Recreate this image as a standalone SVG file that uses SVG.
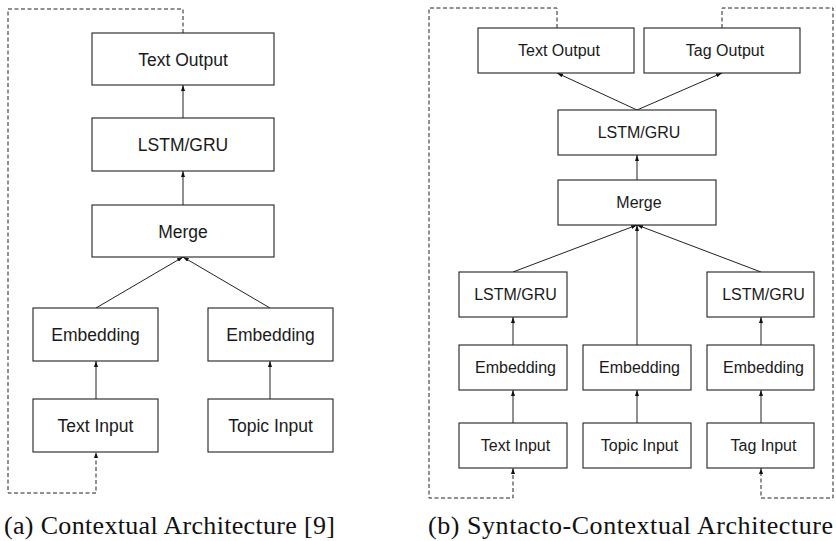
<svg xmlns="http://www.w3.org/2000/svg" width="836" height="541" viewBox="0 0 836 541">
<style>
.box{fill:#fff;stroke:#222;stroke-width:1.1}
.lbl{font-family:"Liberation Sans",Arial,sans-serif;fill:#1a1a1a;text-anchor:middle}
.big{font-size:17.5px}
.sm{font-size:16px}
.ln{fill:none;stroke:#222;stroke-width:1}
.ds{fill:none;stroke:#222;stroke-width:1;stroke-dasharray:4 2.5}
.cap{font-family:"Liberation Serif","Times New Roman",serif;font-size:26px;fill:#111}
</style>
<defs>
<marker id="ah" viewBox="0 0 6 4" refX="6" refY="2" markerWidth="6" markerHeight="4" markerUnits="userSpaceOnUse" orient="auto">
<path d="M0,0 L6,2 L0,4 Z" fill="#111"/>
</marker>
</defs>
<rect width="836" height="541" fill="#fff"/>
<g id="connectors">
<path class="ln" d="M183,118 V85" marker-end="url(#ah)"/>
<path class="ln" d="M183,205 V171" marker-end="url(#ah)"/>
<path class="ln" d="M96,308 L183,257" marker-end="url(#ah)"/>
<path class="ln" d="M270,308 L183,257" marker-end="url(#ah)"/>
<path class="ln" d="M96,399 V361" marker-end="url(#ah)"/>
<path class="ln" d="M270,399 V361" marker-end="url(#ah)"/>
<path class="ds" d="M183,33 V9 H8 V493 H96 V452" marker-end="url(#ah)"/>
<path class="ln" d="M637,110 L557,73" marker-end="url(#ah)"/>
<path class="ln" d="M637,110 L722,73" marker-end="url(#ah)"/>
<path class="ln" d="M637,180 V155" marker-end="url(#ah)"/>
<path class="ln" d="M513,272 L637,225" marker-end="url(#ah)"/>
<path class="ln" d="M637,345 V225" marker-end="url(#ah)"/>
<path class="ln" d="M761,272 L637,225" marker-end="url(#ah)"/>
<path class="ln" d="M513,345 V317" marker-end="url(#ah)"/>
<path class="ln" d="M513,423 V390" marker-end="url(#ah)"/>
<path class="ln" d="M637,423 V390" marker-end="url(#ah)"/>
<path class="ln" d="M761,345 V317" marker-end="url(#ah)"/>
<path class="ln" d="M761,423 V390" marker-end="url(#ah)"/>
<path class="ds" d="M557,28 V8 H429 V498 H513 V468" marker-end="url(#ah)"/>
<path class="ds" d="M722,28 V8 H833 V498 H761 V468" marker-end="url(#ah)"/>
</g>
<g id="a-text-output"><rect class="box" x="92" y="33" width="182" height="52"/><text class="lbl big" x="183" y="65.5">Text Output</text></g>
<g id="a-lstm"><rect class="box" x="92" y="118" width="182" height="53"/><text class="lbl big" x="183" y="151">LSTM/GRU</text></g>
<g id="a-merge"><rect class="box" x="92" y="205" width="182" height="52"/><text class="lbl big" x="183" y="237.5">Merge</text></g>
<g id="a-emb-text"><rect class="box" x="33" y="308" width="125" height="53"/><text class="lbl big" x="95.5" y="341">Embedding</text></g>
<g id="a-emb-topic"><rect class="box" x="208" y="308" width="125" height="53"/><text class="lbl big" x="270.5" y="341">Embedding</text></g>
<g id="a-text-input"><rect class="box" x="33" y="399" width="125" height="53"/><text class="lbl big" x="95.5" y="432">Text Input</text></g>
<g id="a-topic-input"><rect class="box" x="208" y="399" width="125" height="53"/><text class="lbl big" x="270.5" y="432">Topic Input</text></g>
<g id="b-text-output"><rect class="box" x="478" y="28" width="156" height="45"/><text class="lbl sm" x="559" y="56.3">Text Output</text></g>
<g id="b-tag-output"><rect class="box" x="644" y="28" width="156" height="45"/><text class="lbl sm" x="725" y="56.3">Tag Output</text></g>
<g id="b-lstm"><rect class="box" x="558" y="110" width="158" height="45"/><text class="lbl sm" x="639" y="138.3">LSTM/GRU</text></g>
<g id="b-merge"><rect class="box" x="558" y="180" width="158" height="45"/><text class="lbl sm" x="639" y="208.3">Merge</text></g>
<g id="b-lstm-text"><rect class="box" x="459" y="272" width="108" height="45"/><text class="lbl sm" x="515.5" y="300.3">LSTM/GRU</text></g>
<g id="b-lstm-tag"><rect class="box" x="707" y="272" width="107" height="45"/><text class="lbl sm" x="763.5" y="300.3">LSTM/GRU</text></g>
<g id="b-emb-text"><rect class="box" x="459" y="345" width="108" height="45"/><text class="lbl sm" x="515.5" y="373.3">Embedding</text></g>
<g id="b-emb-topic"><rect class="box" x="583" y="345" width="108" height="45"/><text class="lbl sm" x="639.5" y="373.3">Embedding</text></g>
<g id="b-emb-tag"><rect class="box" x="707" y="345" width="107" height="45"/><text class="lbl sm" x="763.5" y="373.3">Embedding</text></g>
<g id="b-text-input"><rect class="box" x="459" y="423" width="108" height="45"/><text class="lbl sm" x="515.5" y="451.3">Text Input</text></g>
<g id="b-topic-input"><rect class="box" x="583" y="423" width="108" height="45"/><text class="lbl sm" x="639.5" y="451.3">Topic Input</text></g>
<g id="b-tag-input"><rect class="box" x="707" y="423" width="107" height="45"/><text class="lbl sm" x="763.5" y="451.3">Tag Input</text></g>
<g id="captions">
<text class="cap" x="4" y="534" textLength="331" lengthAdjust="spacing">(a) Contextual Architecture [9]</text>
<text class="cap" x="428" y="534" textLength="405" lengthAdjust="spacing">(b) Syntacto-Contextual Architecture</text>
</g>
</svg>
